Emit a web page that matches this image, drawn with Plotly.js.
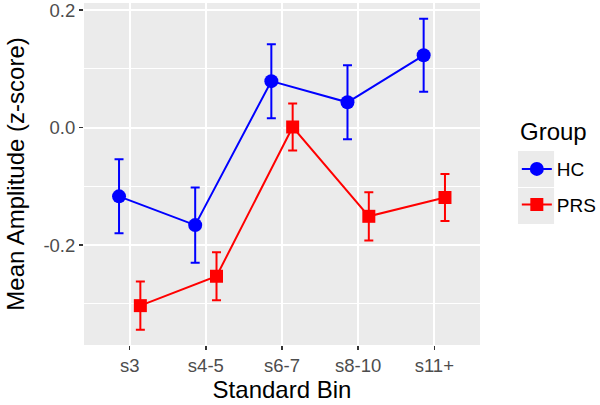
<!DOCTYPE html>
<html lang="en">
<head>
    <meta charset="UTF-8">
    <title>Mean Amplitude by Standard Bin</title>
    <script src="https://cdn.plot.ly/plotly-3.0.1.min.js"></script>
    <style>
        body { margin: 0; background: white; }
        #chart { width: 600px; height: 405px; }
    </style>
</head>
<body>
    <div id="chart"></div>
    <script>
        // Datos
        const categories = ['s3', 's4-5', 's6-7', 's8-10', 's11+'];
        const hcMean = [-0.117, -0.166, 0.079, 0.043, 0.123];
        const hcErr = [0.063, 0.064, 0.063, 0.063, 0.062];
        const prsMean = [-0.303, -0.253, 0.001, -0.151, -0.119];
        const prsErr = [0.041, 0.041, 0.040, 0.041, 0.040];
        const yTicks = [-0.2, 0.0, 0.2];
        const yTickText = ['-0.2', '0.0', '0.2'];

        // posición esquivada (dodge) de cada grupo
        const dodge = 0.14;
        const idx = categories.map((c, i) => i);

        const font = 'Liberation Sans, Arial, sans-serif';

        const traces = [
            {
                x: idx.map(i => i - dodge),
                y: hcMean,
                name: 'HC',
                legendgroup: 'hc',
                mode: 'lines+markers',
                line: { color: '#0000FF', width: 2 },
                marker: { symbol: 'circle', size: 14, color: '#0000FF' },
                error_y: { type: 'data', array: hcErr, color: '#0000FF', thickness: 2, width: 4.5 }
            },
            {
                x: idx.map(i => i + dodge),
                y: prsMean,
                name: 'PRS',
                legendgroup: 'prs',
                mode: 'lines+markers',
                line: { color: '#FF0000', width: 2 },
                marker: { symbol: 'square', size: 13, color: '#FF0000' },
                error_y: { type: 'data', array: prsErr, color: '#FF0000', thickness: 2, width: 4.5 }
            }
        ];

        // cajas grises detrás de las claves de la leyenda (estilo ggplot)
        const keyBox = (y0, y1) => ({
            type: 'rect', xref: 'paper', yref: 'paper',
            x0: 1.096, x1: 1.187, y0: y0, y1: y1,
            fillcolor: '#EBEBEB', line: { width: 0 }, layer: 'below'
        });

        const layout = {
            width: 600,
            height: 405,
            margin: { l: 84, r: 120, t: 3, b: 60, autoexpand: false },
            paper_bgcolor: '#FFFFFF',
            plot_bgcolor: '#EBEBEB',
            font: { family: font, color: '#4D4D4D' },
            xaxis: {
                range: [-0.6, 4.6],
                tickvals: idx,
                ticktext: categories,
                showgrid: true,
                gridcolor: '#FFFFFF',
                gridwidth: 2,
                zeroline: false,
                ticks: 'outside',
                ticklen: 4,
                tickwidth: 1.5,
                tickcolor: '#333333',
                tickfont: { size: 18.5, color: '#4D4D4D' },
                title: { text: 'Standard Bin', font: { size: 24, color: '#000000' }, standoff: 4 }
            },
            yaxis: {
                range: [-0.37, 0.212],
                tickvals: yTicks,
                ticktext: yTickText,
                ticklabeloverflow: 'allow',
                showgrid: true,
                gridcolor: '#FFFFFF',
                gridwidth: 2,
                zeroline: false,
                ticks: 'outside',
                ticklen: 4,
                tickwidth: 1.5,
                tickcolor: '#333333',
                tickfont: { size: 18.5, color: '#4D4D4D' },
                minor: { dtick: 0.1, tick0: 0, showgrid: true, gridcolor: '#FFFFFF', gridwidth: 1, ticks: '' },
                title: { text: 'Mean Amplitude (z-score)', font: { size: 24, color: '#000000' }, standoff: 12 }
            },
            showlegend: true,
            legend: {
                x: 1.093,
                y: 0.57,
                xanchor: 'left',
                yanchor: 'top',
                bgcolor: 'rgba(0,0,0,0)',
                font: { size: 19, color: '#000000' },
                tracegroupgap: 8
            },
            annotations: [{
                text: 'Group', xref: 'paper', yref: 'paper',
                x: 1.096, y: 0.623, xanchor: 'left', yanchor: 'middle',
                showarrow: false, font: { size: 24, color: '#000000' }
            }],
            shapes: [keyBox(0.462, 0.567), keyBox(0.354, 0.459)]
        };

        Plotly.newPlot('chart', traces, layout, { displayModeBar: false, staticPlot: true });
    </script>
</body>
</html>
